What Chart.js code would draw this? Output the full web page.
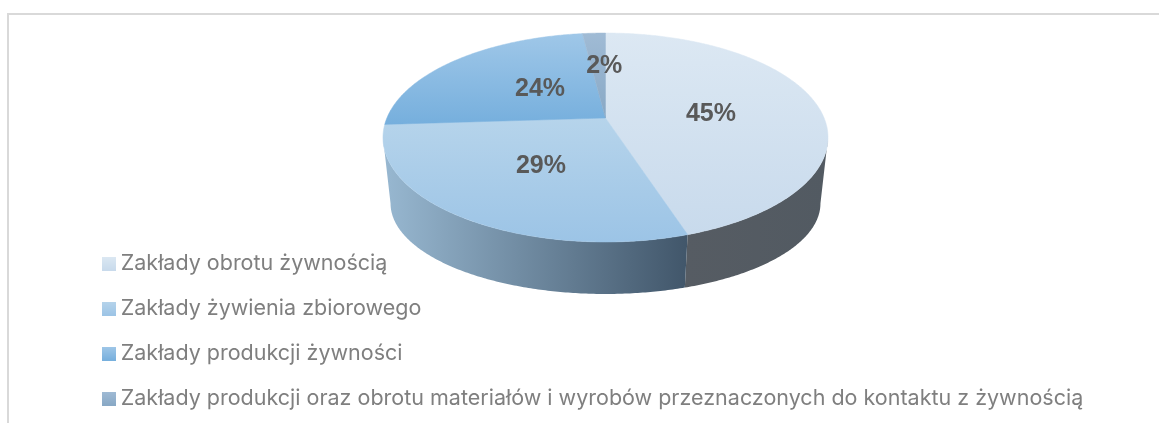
<!DOCTYPE html>
<html><head><meta charset="utf-8">
<style>
html,body{margin:0;padding:0;background:#fff;width:1159px;height:423px;overflow:hidden}
#frame{position:absolute;left:7px;top:13px;width:1152px;height:410px;box-sizing:border-box;border-left:2px solid #d9d9d9;border-top:2px solid #d9d9d9}
canvas{position:absolute;left:0;top:0}
</style>
<script src="https://cdn.jsdelivr.net/npm/chart.js@4"></script>
</head><body>
<div id="frame"></div>
<canvas id="c" width="1159" height="423"></canvas>
<script>
const categories = [
  'Zakłady obrotu żywnością',
  'Zakłady żywienia zbiorowego',
  'Zakłady produkcji żywności',
  'Zakłady produkcji oraz obrotu materiałów i wyrobów przeznaczonych do kontaktu z żywnością'
];
const shares = [45, 29, 24, 2];
const topColors = [['#dce8f3','#c8daec'],['#b6d4eb','#9cc4e6'],['#9fc7e8','#76afdd'],['#a0bbd5','#88a8c5']];
const sideColors = [['#565c63','#525a62'],['#98b8d1','#41566a'],['#a0bcd4','#94b4cd'],['#8aa8c0','#8aa8c0']];
const labelNudge = [[-1,3.5],[2,3],[14,1],[5,-5.5]];

// Perspective of the tilted disc, relative to the pie radius
const P = {ax:2.092, ay:0.965, c:0.1866, hub:-0.1866, wallX:0.966, wallK:0.867, wallY:633};
function rim(arc, phi, f){
  f = f===undefined?1:f;
  const R = arc.outerRadius, u=Math.cos(phi)*f, v=Math.sin(phi)*f, d=1-P.c*v;
  return {x:arc.x+P.ax*R*u/d, y:arc.y+P.hub*R+P.ay*R*v/d};
}
function wall(arc,p){return {x:arc.x+(p.x-arc.x)*P.wallX, y:P.wallY+(p.y-P.wallY)*P.wallK};}

const disc3d = {
  id:'disc3d',
  afterLayout(chart){
    const lg = chart.legend, pad = chart.options.plugins.legend.labels.padding;
    lg.left = 108 - pad; lg.right = 1100; lg.top = 253 - pad; lg.bottom = 600;
  },
  beforeDatasetDraw(chart,args){
    const ctx = chart.ctx, arcs = chart.getDatasetMeta(args.index).data;
    const pts=(a,b,fn)=>{const n=Math.max(2,Math.ceil(Math.abs(b-a)/0.01));const o=[];for(let i=0;i<=n;i++)o.push(fn(a+(b-a)*i/n));return o;};
    // walls: the visible wall runs between the two tangent points of the rim
    const tangent=Math.asin(P.c);
    arcs.forEach((arc,i)=>{
      const s=Math.max(arc.startAngle,tangent), e=Math.min(arc.endAngle,Math.PI-tangent);
      if(e<=s) return;
      const t=pts(s,e,p=>rim(arc,p));
      const all=t.concat(t.map(p=>wall(arc,p)).reverse());
      const minx=Math.min(...all.map(p=>p.x)),maxx=Math.max(...all.map(p=>p.x));
      const g=ctx.createLinearGradient(maxx,0,minx,0);
      g.addColorStop(0,sideColors[i][1]);g.addColorStop(1,sideColors[i][0]);
      ctx.beginPath();all.forEach((p,k)=>k?ctx.lineTo(p.x,p.y):ctx.moveTo(p.x,p.y));ctx.closePath();
      ctx.fillStyle=g;ctx.fill();
    });
    // top faces
    arcs.forEach((arc,i)=>{
      const hub=rim(arc,0,0), t=pts(arc.startAngle,arc.endAngle,p=>rim(arc,p));
      const ys=t.map(p=>p.y).concat(hub.y);
      const g=ctx.createLinearGradient(0,Math.min(...ys),0,Math.max(...ys));
      g.addColorStop(0,topColors[i][0]);g.addColorStop(1,topColors[i][1]);
      ctx.beginPath();ctx.moveTo(hub.x,hub.y);t.forEach(p=>ctx.lineTo(p.x,p.y));ctx.closePath();
      ctx.fillStyle=g;ctx.strokeStyle=g;ctx.lineWidth=0.5;ctx.fill();ctx.stroke();
    });
    // labels
    ctx.save();
    ctx.font='bold 25px "Liberation Sans"';ctx.fillStyle='#595959';ctx.textAlign='center';ctx.textBaseline='middle';
    arcs.forEach((arc,i)=>{
      const p=rim(arc,(arc.startAngle+arc.endAngle)/2,0.5);
      ctx.fillText(shares[i]+'%',p.x+labelNudge[i][0],p.y+labelNudge[i][1]);
    });
    ctx.restore();
    return false;
  }
};

function swatch(i){
  const c=document.createElement('canvas');c.width=14;c.height=14;
  const x=c.getContext('2d'),g=x.createLinearGradient(0,0,0,14);
  g.addColorStop(0,topColors[i][0]);g.addColorStop(1,topColors[i][1]);
  x.fillStyle=g;x.fillRect(0,0,14,14);return c;
}

new Chart(document.getElementById('c'),{
  type:'pie',
  plugins:[disc3d],
  data:{labels:categories,datasets:[{data:shares,backgroundColor:topColors.map(c=>c[1]),borderWidth:0}]},
  options:{
    responsive:false,animation:false,events:[],
    layout:{padding:{left:100,right:49,top:33,bottom:181}},
    plugins:{
      tooltip:{enabled:false},
      legend:{
        position:'left',align:'start',maxWidth:1,
        labels:{
          padding:23.5,usePointStyle:true,pointStyleWidth:2,boxHeight:14,
          font:{family:'Inter',size:21.5},
          generateLabels:(chart)=>chart.data.labels.map((t,i)=>({text:t,fontColor:'#7f7f7f',pointStyle:swatch(i),fillStyle:topColors[i][1],strokeStyle:'transparent',lineWidth:0,index:i}))
        }
      }
    }
  }
});
</script>
</body></html>
